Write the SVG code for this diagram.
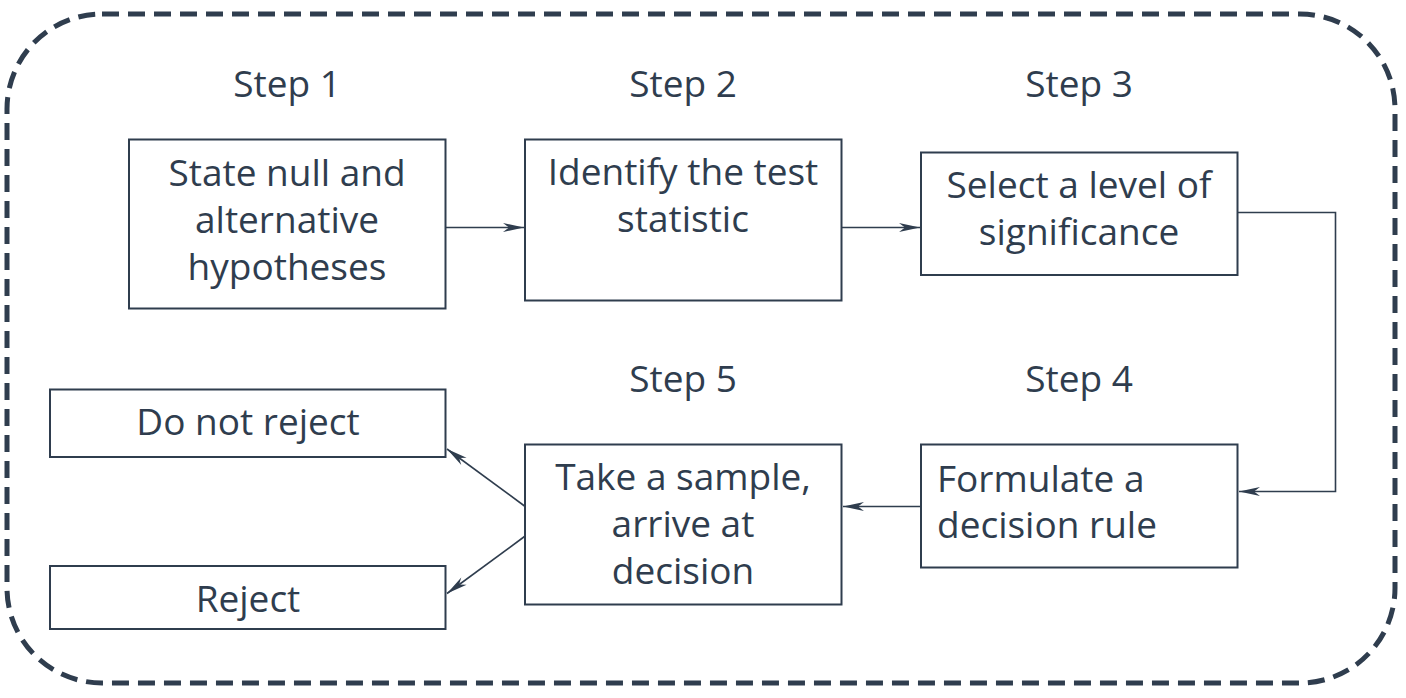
<svg xmlns="http://www.w3.org/2000/svg" width="1406" height="698" viewBox="0 0 1406 698">
<style>
.box{fill:#fff;stroke:#2f3d4e;stroke-width:2}
.t{font-family:"Open Sans","Noto Sans","Liberation Sans",sans-serif;font-size:37px;fill:#2f3d4e;text-anchor:middle}
.l{text-anchor:start}
.c{fill:none;stroke:#2f3d4e;stroke-width:1.6}
</style>
<defs>
<marker id="ah" markerUnits="userSpaceOnUse" markerWidth="24" markerHeight="12" viewBox="-22 -6 24 12" refX="0" refY="0" orient="auto">
<path d="M0,0 L-21,-4.5 L-15,0 L-21,4.5 Z" fill="#2f3d4e"/>
</marker>
</defs>
<rect x="7" y="14" width="1388" height="669" rx="95" ry="95" fill="none" stroke="#2f3d4e" stroke-width="5" stroke-dasharray="17 9"/>
<g id="step-labels">
<text class="t" x="287" y="97">Step 1</text>
<text class="t" x="683" y="97">Step 2</text>
<text class="t" x="1079" y="97">Step 3</text>
<text class="t" x="683" y="392">Step 5</text>
<text class="t" x="1079" y="392">Step 4</text>
</g>
<g id="connectors">
<line class="c" x1="446" y1="227.5" x2="524" y2="227.5" marker-end="url(#ah)"/>
<line class="c" x1="842" y1="227.5" x2="920" y2="227.5" marker-end="url(#ah)"/>
<polyline class="c" points="1238,212.5 1335.5,212.5 1335.5,491.5 1239,491.5" marker-end="url(#ah)"/>
<line class="c" x1="921" y1="506.5" x2="843" y2="506.5" marker-end="url(#ah)"/>
<line class="c" x1="524.5" y1="506" x2="447" y2="449" marker-end="url(#ah)"/>
<line class="c" x1="524.5" y1="536.5" x2="447" y2="593.5" marker-end="url(#ah)"/>
</g>
<g id="n1">
<rect class="box" x="129" y="139.5" width="316.5" height="169"/>
<text class="t" x="287" y="186">State null and</text>
<text class="t" x="287" y="233">alternative</text>
<text class="t" x="287" y="280">hypotheses</text>
</g>
<g id="n2">
<rect class="box" x="525" y="139.5" width="316.5" height="161"/>
<text class="t" x="683" y="185">Identify the test</text>
<text class="t" x="683" y="232">statistic</text>
</g>
<g id="n3">
<rect class="box" x="921" y="152.5" width="316.5" height="122.5"/>
<text class="t" x="1079" y="197.5">Select a level of</text>
<text class="t" x="1079" y="245">significance</text>
</g>
<g id="n4">
<rect class="box" x="921" y="444.5" width="316.5" height="123"/>
<text class="t l" x="937" y="491.5">Formulate a</text>
<text class="t l" x="937" y="538">decision rule</text>
</g>
<g id="n5">
<rect class="box" x="525" y="444.5" width="316.5" height="160"/>
<text class="t" x="683" y="490">Take a sample,</text>
<text class="t" x="683" y="537">arrive at</text>
<text class="t" x="683" y="583.5">decision</text>
</g>
<g id="n-do-not-reject">
<rect class="box" x="50" y="389.5" width="395.5" height="67.5"/>
<text class="t" x="248" y="435">Do not reject</text>
</g>
<g id="n-reject">
<rect class="box" x="50" y="566" width="395.5" height="63"/>
<text class="t" x="248" y="612">Reject</text>
</g>
</svg>
